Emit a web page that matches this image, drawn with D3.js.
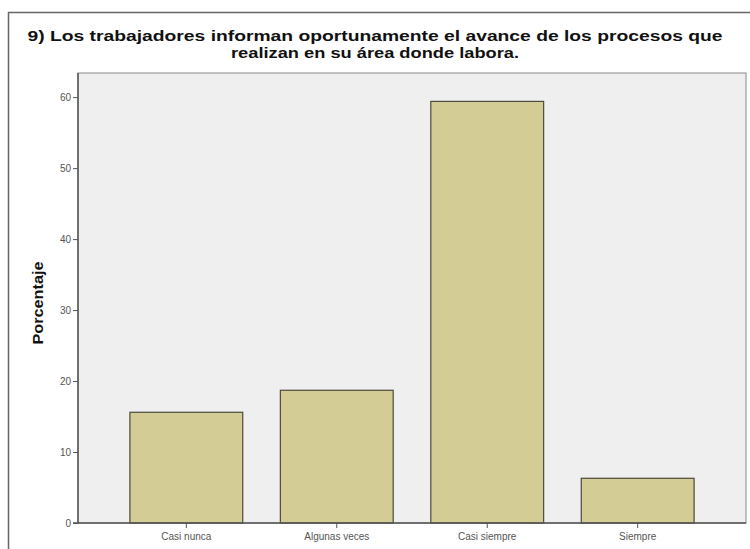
<!DOCTYPE html>
<html>
<head>
<meta charset="utf-8">
<script src="https://cdn.jsdelivr.net/npm/d3@7"></script>
<style>
  body { margin: 0; background: #fff; }
  svg { display: block; font-family: "Liberation Sans", Arial, sans-serif; }
  .tick text { fill: #555; font-size: 10px; }
  .title { font-weight: bold; font-size: 15.5px; fill: #111; }
  .label { font-weight: bold; font-size: 15px; fill: #111; }
</style>
</head>
<body>
<svg id="chart" width="750" height="549"></svg>
<script>
const categories = ['Casi nunca', 'Algunas veces', 'Casi siempre', 'Siempre'];
const percentages = [15.6, 18.7, 59.4, 6.3];
const yTicks = [0, 10, 20, 30, 40, 50, 60];
const titleLines = [
  '9) Los trabajadores informan oportunamente el avance de los procesos que',
  'realizan en su área donde labora.'
];
const titleWidths = [695, 288];

const svg = d3.select('#chart');

// outer frame (right and bottom sides run off the picture)
svg.append('rect')
  .attr('x', 8.5)
  .attr('y', 12.5)
  .attr('width', 760)
  .attr('height', 560)
  .attr('fill', '#fff')
  .attr('stroke', '#666')
  .attr('stroke-width', 1.5);

const plotLeft = 78, plotRight = 746, plotTop = 73, plotBottom = 523;

const xScale = d3.scaleBand()
  .domain(categories)
  .range([plotLeft, plotRight])
  .paddingInner(0.25)
  .paddingOuter(0.345);

const yScale = d3.scaleLinear()
  .domain([0, 63.4])
  .range([plotBottom, plotTop]);

// plot background
svg.append('rect')
  .attr('x', plotLeft)
  .attr('y', plotTop)
  .attr('width', plotRight - plotLeft)
  .attr('height', plotBottom - plotTop)
  .attr('fill', '#efeff0')
  .attr('stroke', '#888')
  .attr('stroke-width', 1);

svg.selectAll('.bar')
  .data(percentages)
  .enter()
  .append('rect')
  .attr('class', 'bar')
  .attr('x', (d, i) => xScale(categories[i]))
  .attr('y', d => yScale(d))
  .attr('width', xScale.bandwidth())
  .attr('height', d => yScale(0) - yScale(d))
  .attr('fill', '#d3cd95')
  .attr('stroke', '#4b4a3c')
  .attr('stroke-width', 1.2);

const yAxis = svg.append('g')
  .attr('transform', `translate(${plotLeft}, 0)`)
  .call(d3.axisLeft(yScale).tickValues(yTicks).tickSize(5).tickPadding(2));

const xAxis = svg.append('g')
  .attr('transform', `translate(0, ${plotBottom})`)
  .call(d3.axisBottom(xScale).tickSize(5).tickPadding(5));

[yAxis, xAxis].forEach(g => {
  g.select('.domain').attr('stroke', '#555').attr('stroke-width', 1.5);
  g.selectAll('.tick line').attr('stroke', '#555');
});
yAxis.select('.domain').attr('d', `M0,${plotTop}V${plotBottom}`);
xAxis.select('.domain').attr('d', `M${plotLeft - 5},0H${plotRight}`);

svg.append('text')
  .attr('class', 'label')
  .attr('transform', `translate(43, ${(plotTop + plotBottom) / 2 + 5}) rotate(-90)`)
  .attr('text-anchor', 'middle')
  .attr('textLength', 83)
  .attr('lengthAdjust', 'spacingAndGlyphs')
  .text('Porcentaje');

svg.selectAll('.title')
  .data(titleLines)
  .enter()
  .append('text')
  .attr('class', 'title')
  .attr('x', 375)
  .attr('y', (d, i) => 41 + i * 17)
  .attr('text-anchor', 'middle')
  .attr('textLength', (d, i) => titleWidths[i])
  .attr('lengthAdjust', 'spacingAndGlyphs')
  .text(d => d);
</script>
</body>
</html>
